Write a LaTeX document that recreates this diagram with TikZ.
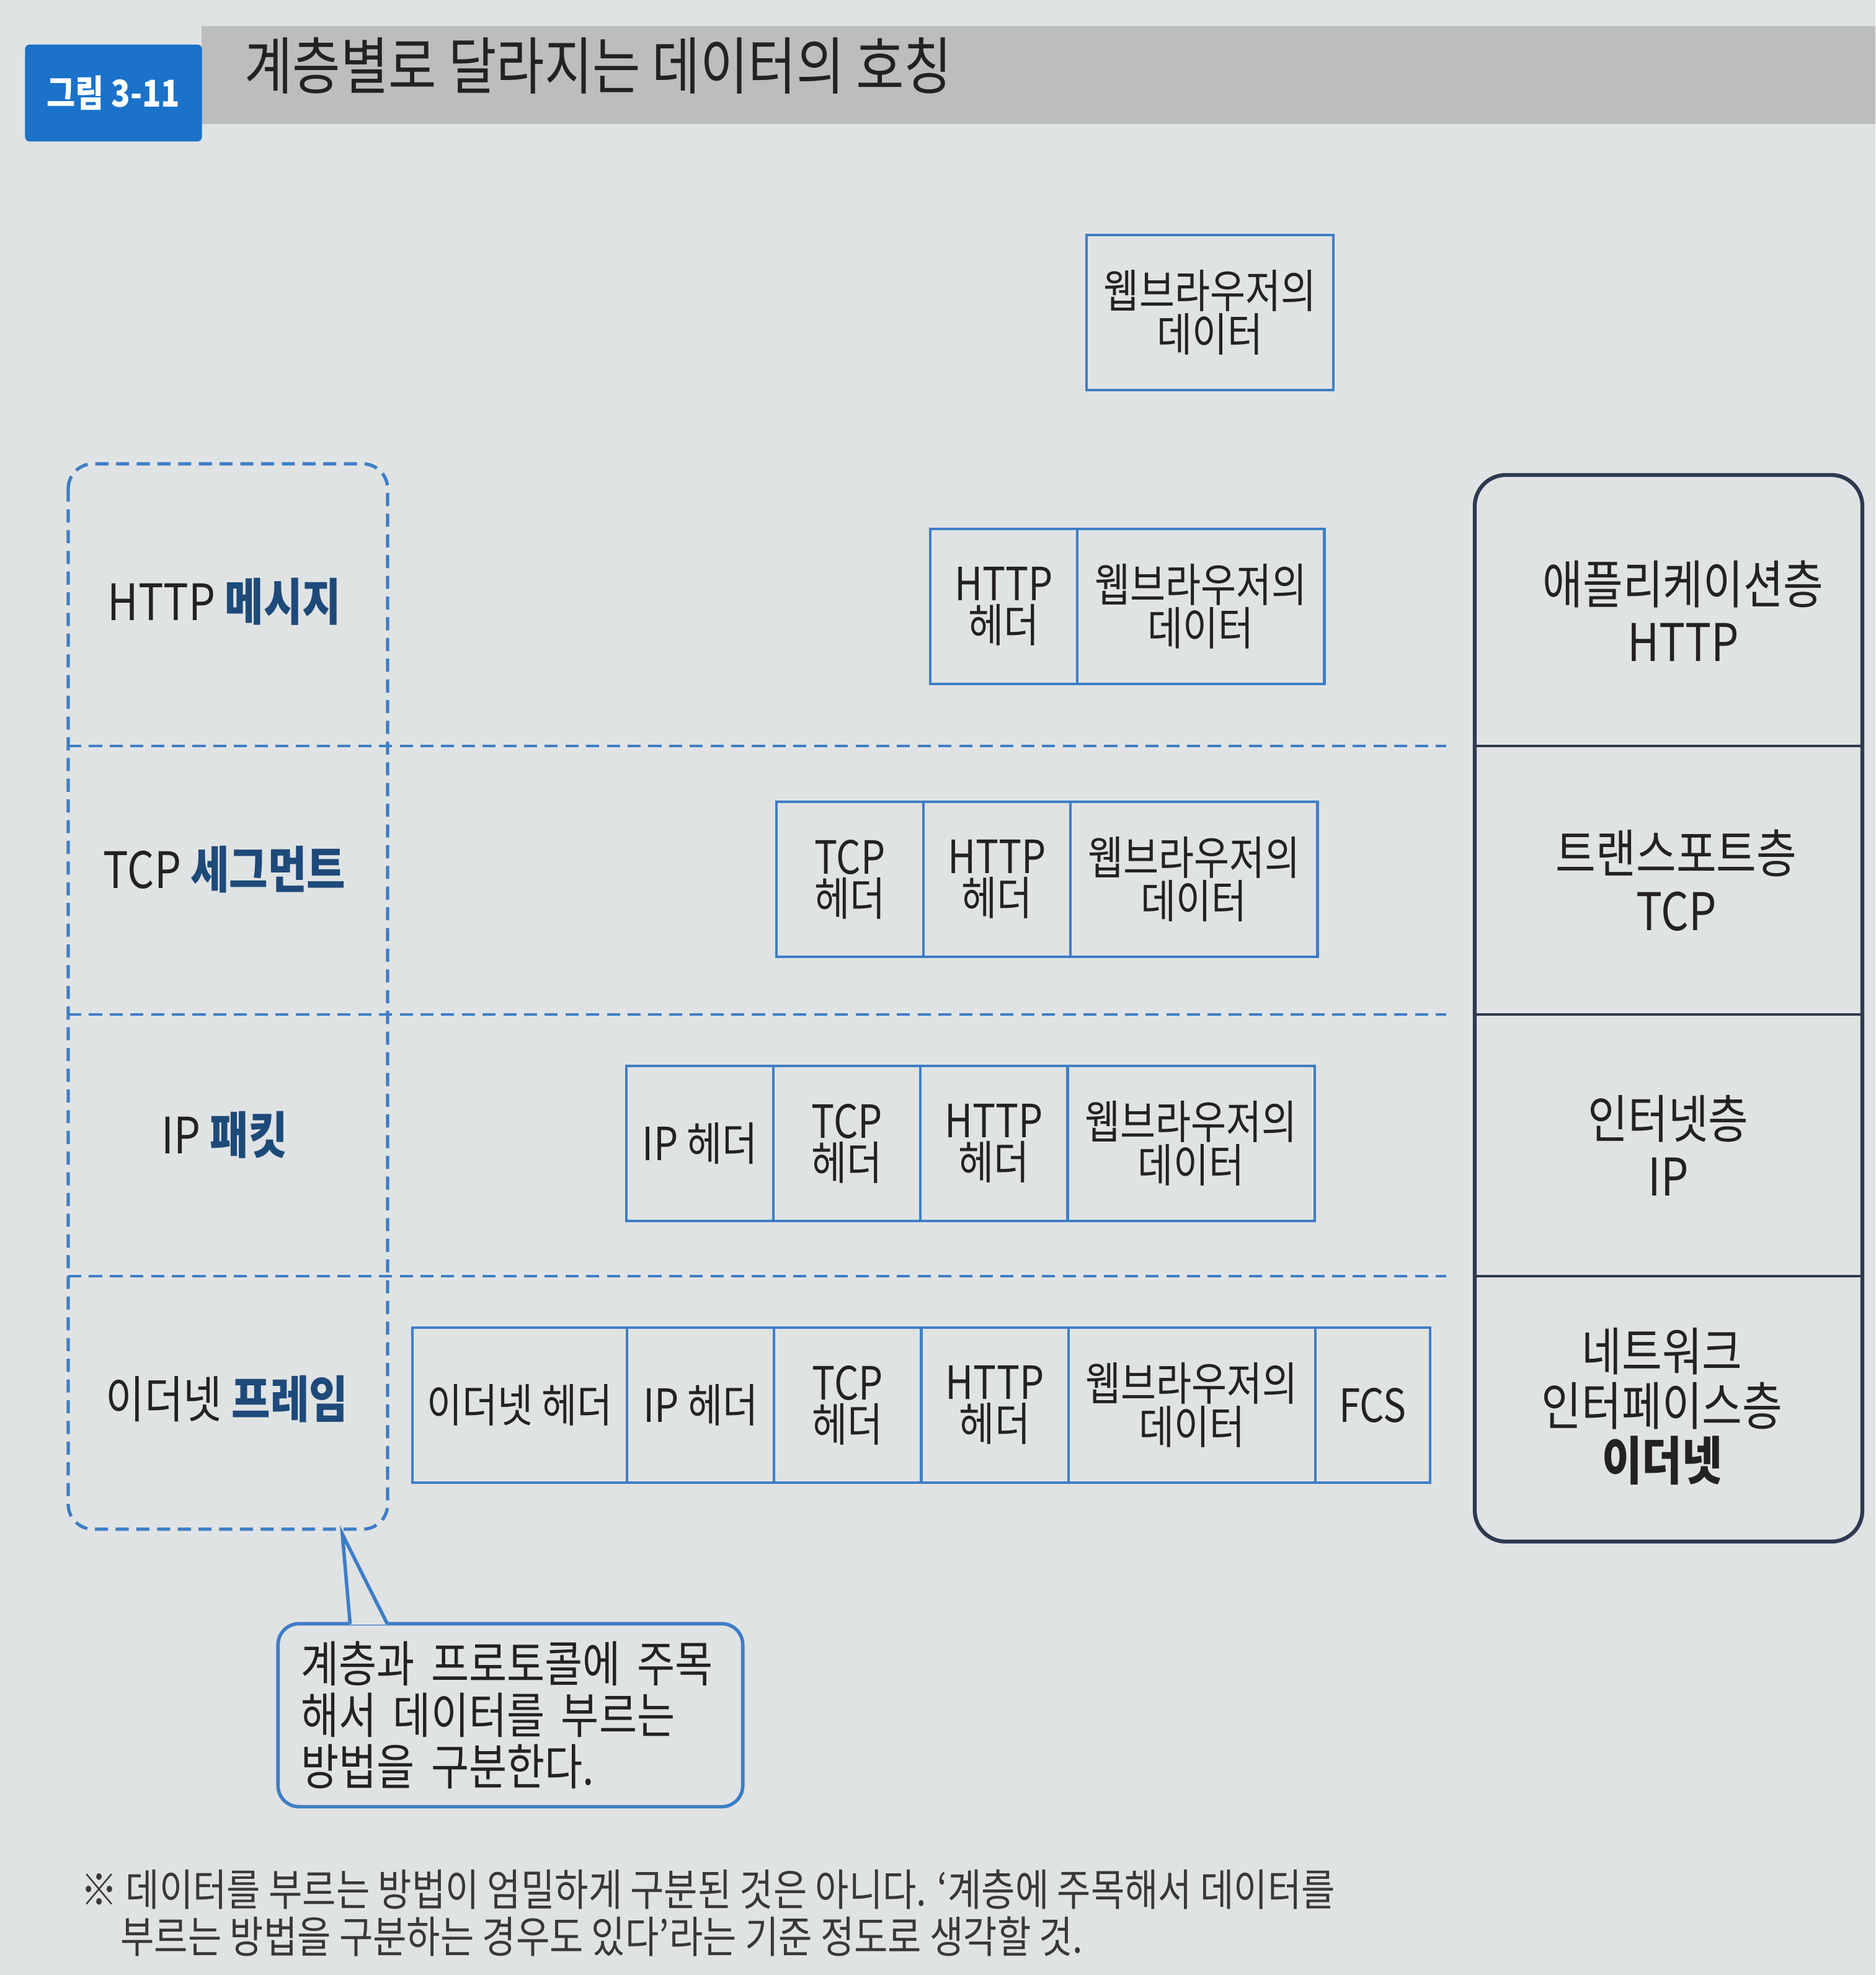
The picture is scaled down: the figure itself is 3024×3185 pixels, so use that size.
\documentclass[tikz,border=0pt]{standalone}
\usepackage{fontspec}
\setmainfont{Noto Sans CJK KR}[FakeStretch=0.84]
\usepackage{tikz}
\usetikzlibrary{positioning}
\definecolor{pagebg}{RGB}{224,227,228}
\definecolor{bandgray}{RGB}{188,189,190}
\definecolor{tagblue}{RGB}{26,114,201}
\definecolor{boxblue}{RGB}{62,126,198}
\definecolor{labelnavy}{RGB}{30,74,122}
\definecolor{framenavy}{RGB}{46,58,78}
\definecolor{inkblack}{RGB}{35,33,35}
\newcommand{\boxfont}{\fontsize{21}{19}\selectfont}
\newcommand{\layerfont}{\fontsize{23.8}{26.5}\selectfont}
\newcommand{\unitname}[1]{\textbf{\color{labelnavy}#1}}
\tikzset{
  field/.style     = {draw=boxblue, line width=1.2pt, minimum height=2.5cm, inner sep=0pt, outer sep=0pt,
                      align=center, font=\boxfont, text=inkblack},
  hdr/.style       = {field, minimum width=2.37cm},
  payload/.style   = {field, minimum width=3.98cm},
  namebox/.style   = {draw=boxblue, line width=1.5pt, dash pattern=on 6pt off 3.5pt, rounded corners=0.4cm},
  rowsep/.style    = {draw=boxblue, line width=0.9pt, dash pattern=on 6pt off 3.5pt},
  layerframe/.style= {draw=framenavy, line width=1.8pt, rounded corners=0.5cm},
  layerline/.style = {draw=framenavy, line width=0.9pt},
  namelabel/.style = {font=\fontsize{23}{26}\selectfont, text=inkblack},
  layerlabel/.style= {align=center, font=\layerfont, text=inkblack},
  figtag/.style    = {fill=tagblue, rounded corners=2pt, minimum width=2.85cm, minimum height=1.56cm,
                      text=white, font=\fontsize{17}{19}\selectfont\bfseries},
  titletext/.style = {font=\fontsize{28.5}{32}\selectfont, text=inkblack},
  notebox/.style   = {draw=boxblue, line width=1.6pt, rounded corners=0.34cm, minimum width=7.49cm,
                      minimum height=2.95cm, text width=6.75cm, align=left,
                      font=\fontsize{22.5}{23.6}\selectfont, text=inkblack},
  notes/.style     = {draw=boxblue, line width=1.6pt},
  footnote/.style  = {align=left, font=\fontsize{20}{21.5}\selectfont, text=inkblack!90}
}

\begin{document}
\begin{tikzpicture}[x={(0.01cm,0)}, y={(0,-0.01cm)}]
  \fill[pagebg] (0,0) rectangle (3024,3185);
  \useasboundingbox (0,0) rectangle (3024,3185);

  % caption bar
  \fill[bandgray] (325,42) rectangle (3024,200);
  \node[figtag] (tag) at (183,150) {그림 3-11};
  \node[titletext, anchor=west] (title) at (382,106) {계층별로 달라지는 데이터의 호칭};

  % name column and layer column
  \foreach \yy in {1203,1636,2058}{
    \draw[rowsep] (110,\yy) -- (2332,\yy);
    \draw[layerline] (2378,\yy) -- (3003,\yy);
  }
  \draw[namebox] (110,748) rectangle (625,2466);
  \draw[layerframe] (2378,766) rectangle (3003,2486);

  % data units
  \node[payload, anchor=west] (d0) at (1752,504) {웹브라우저의\\데이터};

  \node[hdr, anchor=west] (hh1) at (1500,978) {HTTP\\헤더};
  \node[payload, right=0pt of hh1] (d1) {웹브라우저의\\데이터};

  \node[hdr, anchor=west] (tcp2) at (1252,1418) {TCP\\헤더};
  \node[hdr, right=0pt of tcp2] (hh2) {HTTP\\헤더};
  \node[payload, right=0pt of hh2] (d2) {웹브라우저의\\데이터};

  \node[hdr, anchor=west] (ip3) at (1010,1844) {IP 헤더};
  \node[hdr, right=0pt of ip3] (tcp3) {TCP\\헤더};
  \node[hdr, right=0pt of tcp3] (hh3) {HTTP\\헤더};
  \node[payload, right=0pt of hh3] (d3) {웹브라우저의\\데이터};

  \node[field, minimum width=3.46cm, anchor=west] (eth4) at (665,2266) {이더넷 헤더};
  \node[hdr, right=0pt of eth4] (ip4) {IP 헤더};
  \node[hdr, right=0pt of ip4] (tcp4) {TCP\\헤더};
  \node[hdr, right=0pt of tcp4] (hh4) {HTTP\\헤더};
  \node[payload, right=0pt of hh4] (d4) {웹브라우저의\\데이터};
  \node[field, minimum width=1.85cm, right=0pt of d4] (fcs4) {FCS};

  % names
  \node[namelabel] (nhttp) at (362,970) {HTTP \unitname{메시지}};
  \node[namelabel] (ntcp) at (362,1402) {TCP \unitname{세그먼트}};
  \node[namelabel] (nip) at (362,1830) {IP \unitname{패킷}};
  \node[namelabel] (neth) at (366,2256) {이더넷 \unitname{프레임}};

  % layers
  \node[layerlabel] (lapp) at (2714,985) {애플리케이션층\\HTTP};
  \node[layerlabel] (ltrans) at (2703,1420) {트랜스포트층\\TCP};
  \node[layerlabel] (lnet) at (2690,1847) {인터넷층\\IP};
  \node[layerlabel, font=\fontsize{23.8}{25}\selectfont] (llink) at (2680,2268) {네트워크\\인터페이스층\\\textbf{이더넷}};

  % callout
  \node[notebox] (note) at (823,2766) {계층과 프로토콜에 주목\\해서 데이터를 부르는\\방법을 구분한다.};
  \coordinate (tip) at (552,2474);
  \fill[pagebg] ([xshift=1.19cm,yshift=-1.2pt]note.north west) -- (tip) -- ([xshift=1.79cm,yshift=-1.2pt]note.north west) -- cycle;
  \draw[notes] ([xshift=1.19cm,yshift=-0.9pt]note.north west) -- (tip) -- ([xshift=1.79cm,yshift=-0.9pt]note.north west);

  \node[footnote, anchor=west] (fn) at (118,3085) {※ 데이터를 부르는 방법이 엄밀하게 구분된 것은 아니다. ‘계층에 주목해서 데이터를\\\hspace*{0.64cm}부르는 방법을 구분하는 경우도 있다’라는 기준 정도로 생각할 것.};
\end{tikzpicture}
\end{document}
